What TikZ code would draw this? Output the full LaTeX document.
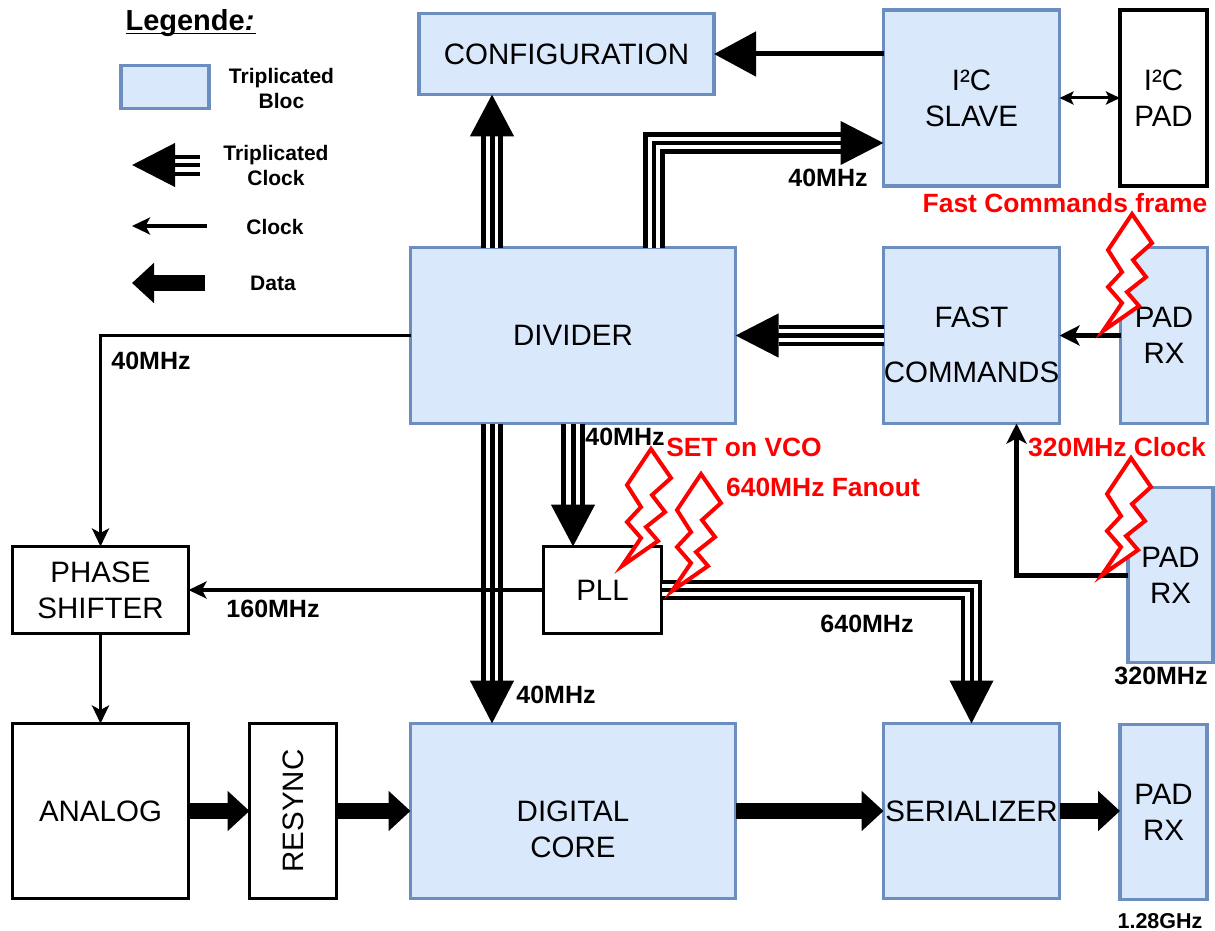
\documentclass[tikz,border=0pt]{standalone}
\usepackage{fontspec}
\setmainfont{Liberation Sans}
\usetikzlibrary{arrows.meta,calc}
\definecolor{blockfill}{HTML}{DAE8FC}
\definecolor{blockline}{HTML}{6C8EBF}
% three parallel lines sharing one big arrowhead: spacing, line width, head length, path
\newcommand{\tripleconn}[4]{%
  \pgfmathsetmacro{\tco}{2*#1+#2}\pgfmathsetmacro{\tci}{2*#1-#2}%
  \draw[black,line width=\tco pt,shorten >=#3pt] #4;
  \draw[white,line width=\tci pt,shorten >=#3pt] #4;
  \draw[black,line width=#2pt,-{Triangle[length=#3pt,width=43pt]}] #4;
}
\tikzset{
  blockbase/.style={draw,rectangle,outer sep=0pt,inner sep=0pt,line width=3.2pt,align=center,
    text=black,font=\fontsize{29.5}{36}\selectfont},
  bluebox/.style={blockbase,draw=blockline,fill=blockfill},
  whitebox/.style={blockbase,draw=black,fill=white},
  boxsize/.style n args={2}{minimum width=#1pt,minimum height=#2pt},
  clockthin/.style={black,line width=3.5pt,-{Stealth[length=18pt,width=17pt,inset=4.5pt]}},
  clockthick/.style={black,line width=5pt,-{Stealth[length=20pt,width=20pt,inset=5pt]}},
  ioconn/.style={black,line width=3pt,{Stealth[length=14pt,width=13pt,inset=3pt]}-{Stealth[length=14pt,width=13pt,inset=3pt]}},
  dataconn/.style={black,line width=16pt,-{Triangle[length=22pt,width=39pt]}},
  thinhead/.style={black,line width=5pt,-{Triangle[length=42pt,width=44pt]}},
  blacklabel/.style={font=\bfseries\fontsize{25}{25}\selectfont,text=black,inner sep=0pt},
  redlabel/.style={font=\bfseries\fontsize{26.4}{26.4}\selectfont,text=red,inner sep=0pt},
  legendlabel/.style={font=\bfseries\fontsize{21}{25}\selectfont,text=black,inner sep=0pt,align=center},
  boltshape/.pic={\draw[red,line width=4pt,fill=white,miter limit=20,line join=miter]
    (5,-4)--(41,-29)--(29,-43)--(48,-58)--(35,-75)--(54,-92)--(34,-121)--(10,-85)--(24,-63)--(10,-48)--(24,-32)--cycle;},
}
\begin{document}
\begin{tikzpicture}[x=1pt,y=-1pt]
\useasboundingbox (0,0) rectangle (1215,931);
\fill[white] (0,0) rectangle (1215,931);
% blocks
\node[bluebox,boxsize={295}{81}] (cfg) at (566.5,54) {CONFIGURATION};
\node[bluebox,boxsize={176}{176}] (slave) at (971.5,98) {I²C\\SLAVE};
\node[whitebox,boxsize={87}{176}] (i2cpad) at (1163.5,98) {I²C\\PAD};
\node[bluebox,boxsize={325}{176}] (div) at (573,335.5) {DIVIDER};
\node[bluebox,boxsize={176}{176}] (fast) at (971.5,335.5) {};
\node[bluebox,boxsize={87}{176}] (padtop) at (1164,335.5) {PAD\\RX};
\node[bluebox,boxsize={85}{175}] (padmid) at (1170.5,575) {PAD\\RX};
\node[whitebox,boxsize={118}{87}] (pll) at (602.5,590) {PLL};
\node[whitebox,boxsize={176}{87}] (phase) at (100.5,590) {PHASE\\SHIFTER};
\node[whitebox,boxsize={176}{175}] (analog) at (100.5,811) {ANALOG};
\node[whitebox,boxsize={87}{175}] (resync) at (293,811) {\rotatebox{90}{RESYNC}};
\node[bluebox,boxsize={325}{175}] (core) at (573,811) {};
\node[bluebox,boxsize={176}{175}] (ser) at (971.5,811) {SERIALIZER};
\node[bluebox,boxsize={87}{175}] (padbot) at (1163.5,812) {PAD\\RX};
\node[blockbase,draw=none,inner sep=0pt] (fasttext) at (971.5,345) {FAST\\[19pt]COMMANDS};
\node[blockbase,draw=none,inner sep=0pt] (coretext) at (573,829) {DIGITAL\\CORE};
% connectors
\draw[thinhead] (slave.west |- cfg.east) -- (cfg.east);
\draw[ioconn] (slave.east) -- (i2cpad.west);
\tripleconn{8.7}{5}{42}{([xshift=-81pt]div.north) -- ([xshift=-74.5pt]cfg.south)}
\coordinate (slaveIn) at ($(slave.west)+(0,45)$);
\tripleconn{8.4}{4.5}{43}{([xshift=81pt]div.north) |- (slaveIn)}
\tripleconn{8.4}{4.5}{43}{(fast.west) -- (div.east)}
\draw[clockthick] (padtop.west) -- (fast.east);
\draw[clockthin] (div.west) -| (phase.north);
\tripleconn{8.7}{5}{43}{([xshift=-81pt]div.south) -- ([xshift=-81pt]core.north)}
\tripleconn{9.5}{5}{42}{(div.south) -- (pll.north -| div.south)}
\draw[clockthin] (pll.west) -- (phase.east);
\tripleconn{8.4}{4}{43}{(pll.east) -| (ser.north)}
\coordinate (padmidOut) at (padmid.west);
\coordinate (fastIn) at ($(fast.south west)+(133,0)$);
\draw[clockthick] (padmidOut) -| (fastIn);
\draw[clockthin] (phase.south) -- (analog.north);
\draw[dataconn] (analog.east) -- (resync.west);
\draw[dataconn] (resync.east) -- (core.west);
\draw[dataconn] (core.east) -- (ser.west);
\draw[dataconn] (ser.east) -- (padbot.west |- ser.east);
% bolts
\coordinate (boltfast) at (1098,335);
\coordinate (boltclk) at (1097,579);
\coordinate (boltset) at (617,570);
\coordinate (boltfan) at (667,595);
\pic at (boltfast) {boltshape};
\pic at (boltclk) {boltshape};
\pic at (boltset) {boltshape};
\pic at (boltfan) {boltshape};
% labels
\node[blacklabel] (l1) at (828,178) {40MHz};
\node[blacklabel] (l2) at (625,437) {40MHz};
\node[blacklabel] (l3) at (151,361) {40MHz};
\node[blacklabel] (l4) at (556,695) {40MHz};
\node[blacklabel] (l5) at (273,609) {160MHz};
\node[blacklabel] (l6) at (867,624) {640MHz};
\node[blacklabel] (l7) at (1161,676) {320MHz};
\node[blacklabel,font=\bfseries\fontsize{21.5}{21.5}\selectfont] (l8) at (1160,921) {1.28GHz};
\node[redlabel] (r1) at (1065,203) {Fast Commands frame};
\node[redlabel] (r2) at (1117,447) {320MHz Clock};
\node[redlabel] (r3) at (744,447) {SET on VCO};
\node[redlabel] (r4) at (823,487) {640MHz Fanout};
% legend
\node[font=\bfseries\fontsize{29}{29}\selectfont,inner sep=0pt,anchor=base] (legtitle) at (190,31) {\rlap{\rule[-3.5pt]{130pt}{1.8pt}}Legende\textit{:}};
\node[bluebox,boxsize={88}{43}] (legbox) at (165,87) {};
\node[legendlabel] (legbloc) at (281.5,88) {Triplicated\\Bloc};
\coordinate (legTa) at (200,165);
\coordinate (legTb) at (132,165);
\tripleconn{8.5}{4}{43}{(legTa) -- (legTb)}
\node[legendlabel] (legtc) at (276,165) {Triplicated\\Clock};
\coordinate (legCa) at (207,226);
\coordinate (legCb) at (132,226);
\draw[clockthin] (legCa) -- (legCb);
\node[legendlabel] (legc) at (275,227) {Clock};
\coordinate (legDa) at (205,283);
\coordinate (legDb) at (132,283);
\draw[dataconn] (legDa) -- (legDb);
\node[legendlabel] (legd) at (273,283) {Data};
\end{tikzpicture}
\end{document}
